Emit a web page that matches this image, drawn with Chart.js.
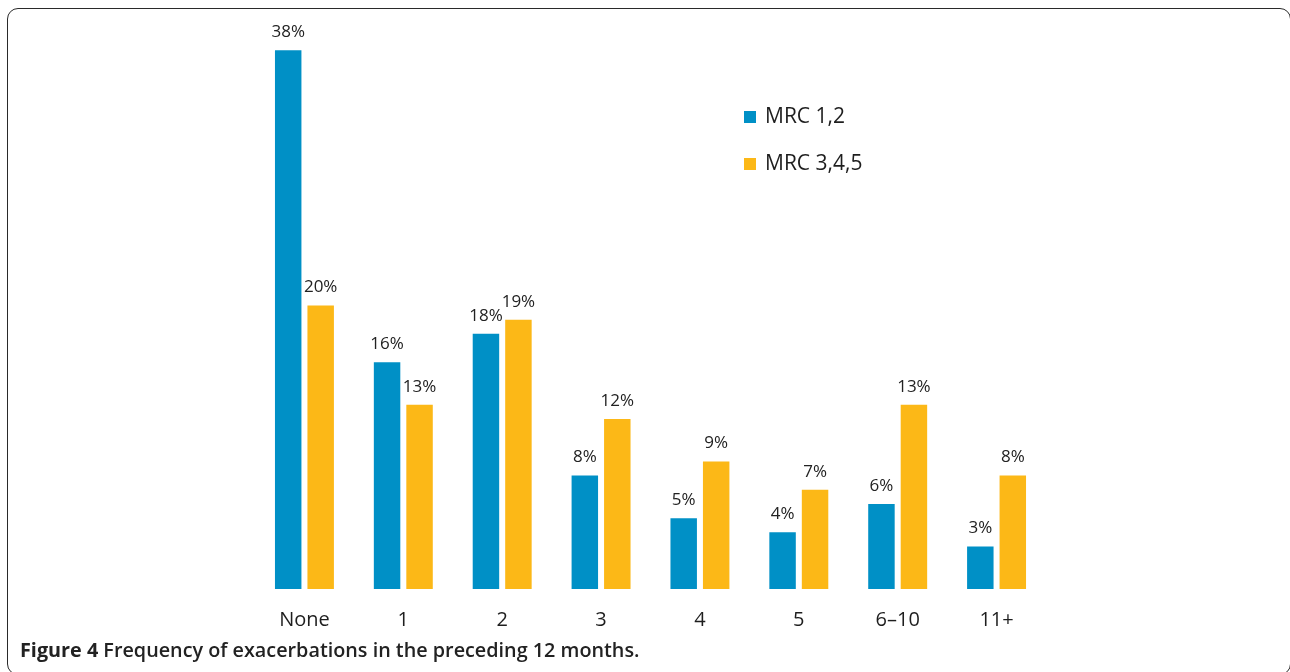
<!DOCTYPE html>
<html>
<head>
<meta charset="utf-8">
<script src="https://cdn.jsdelivr.net/npm/chart.js@4.4.1/dist/chart.umd.min.js"></script>
<style>
  html, body { margin: 0; padding: 0; background: #fff; }
  #wrap { position: relative; width: 1290px; height: 672px; overflow: hidden; font-family: "Open Sans", sans-serif; }
  #frame { position: absolute; left: 7px; top: 8px; width: 1284px; height: 667px; border: 1.5px solid #2a2a2a; border-radius: 11px; box-sizing: border-box; }
  #chart { position: absolute; left: 0; top: 0; }
  #caption { position: absolute; left: 20px; top: 636px; font-size: 19.8px; font-weight: 600; color: #222; white-space: nowrap; }
  #caption b { font-weight: 700; }
</style>
</head>
<body>
<div id="wrap">
  <div id="frame"></div>
  <canvas id="chart" width="1290" height="672"></canvas>
  <div id="caption"><b>Figure 4</b> Frequency of exacerbations in the preceding 12 months.</div>
</div>
<script>
// Exacerbations in the preceding 12 months, % of patients per MRC dyspnoea group
const categories = ["None", "1", "2", "3", "4", "5", "6\u201310", "11+"];
const mrc12 = [38, 16, 18, 8, 5, 4, 6, 3];
const mrc345 = [20, 13, 19, 12, 9, 7, 13, 8];
const seriesNames = ["MRC 1,2", "MRC 3,4,5"];
const seriesColors = ["#0090c6", "#fcb817"];

// Percentage labels above each bar
const valueLabels = {
  id: "valueLabels",
  afterDatasetsDraw(chart) {
    const ctx = chart.ctx;
    ctx.save();
    ctx.font = "17px 'Open Sans', sans-serif";
    ctx.fillStyle = "#222";
    ctx.textAlign = "center";
    ctx.textBaseline = "middle";
    chart.data.datasets.forEach((ds, i) => {
      chart.getDatasetMeta(i).data.forEach((bar, j) => {
        ctx.fillText(ds.data[j] + "%", bar.x, bar.y - 18);
      });
    });
    ctx.restore();
  }
};

// Legend with square swatches, stacked vertically inside the plot
const squareLegend = {
  id: "squareLegend",
  afterDraw(chart) {
    const ctx = chart.ctx;
    ctx.save();
    ctx.font = "21px 'Open Sans', sans-serif";
    ctx.textBaseline = "middle";
    ctx.textAlign = "left";
    chart.data.datasets.forEach((ds, i) => {
      const y = 117 + i * 47;
      ctx.fillStyle = ds.backgroundColor;
      ctx.fillRect(744, y - 6, 12, 12);
      ctx.fillStyle = "#1e1e1e";
      ctx.fillText(ds.label, 765, y);
    });
    ctx.restore();
  }
};

new Chart(document.getElementById("chart"), {
  type: "bar",
  data: {
    labels: categories,
    datasets: [
      { label: seriesNames[0], data: mrc12, backgroundColor: seriesColors[0] },
      { label: seriesNames[1], data: mrc345, backgroundColor: seriesColors[1] }
    ]
  },
  options: {
    responsive: false,
    animation: false,
    events: [],
    layout: { padding: { left: 255, right: 244, top: 22, bottom: 21 } },
    datasets: { bar: { categoryPercentage: 0.657, barPercentage: 0.815 } },
    plugins: { legend: { display: false }, tooltip: { enabled: false } },
    scales: {
      x: {
        grid: { display: false, drawTicks: false },
        border: { display: false },
        ticks: { padding: 19, color: "#1e1e1e", font: { family: "'Open Sans', sans-serif", size: 20 } }
      },
      y: { display: false, min: 0, max: 40 }
    }
  },
  plugins: [valueLabels, squareLegend]
});
</script>
</body>
</html>
